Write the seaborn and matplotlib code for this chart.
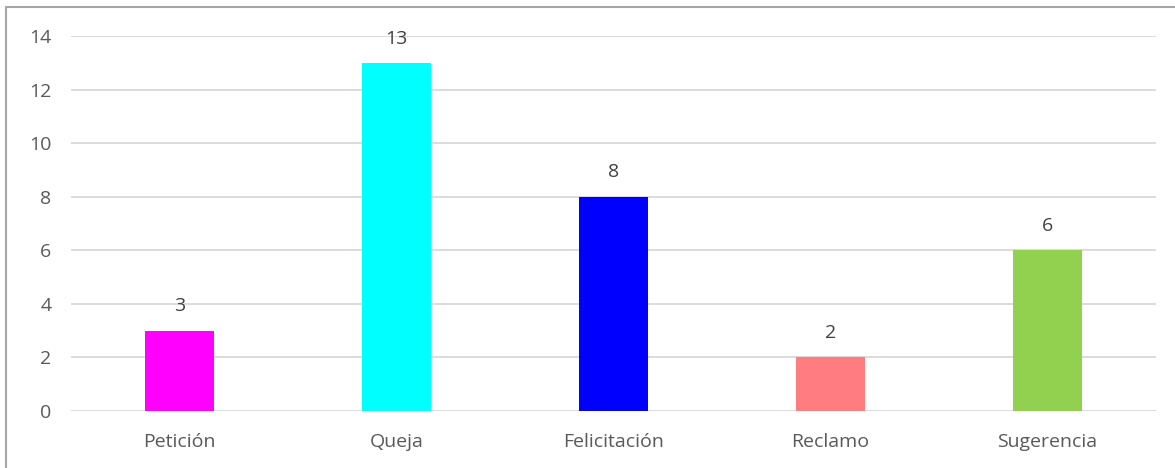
import matplotlib
matplotlib.use("Agg")
import matplotlib.pyplot as plt
import seaborn as sns
import pandas as pd
from matplotlib.lines import Line2D

categories = ["Petición", "Queja", "Felicitación", "Reclamo", "Sugerencia"]
values = [3, 13, 8, 2, 6]
colors = ["#FF00FF", "#00FFFF", "#0000FF", "#FF7C80", "#92D050"]
yticks = [0, 2, 4, 6, 8, 10, 12, 14]

sns.set_theme(style="white")
plt.rcParams['font.family'] = ['Open Sans', 'DejaVu Sans']

df = pd.DataFrame({"cat": categories, "val": values})

fig = plt.figure(figsize=(11.75, 4.68), dpi=100)
ax = fig.add_axes([71/1175, 1-411/468, (1156-71)/1175, (411-36)/468])

sns.barplot(data=df, x="cat", y="val", hue="cat", palette=colors, legend=False,
            width=0.315, ax=ax, saturation=1, linewidth=0)

ax.set_ylim(0, 14)
ax.set_yticks(yticks)
ax.set_xlim(-0.5, len(categories)-0.5)
ax.yaxis.grid(True, color="#D9D9D9", linewidth=1.3)
ax.set_axisbelow(True)
for s in ax.spines.values():
    s.set_visible(False)
ax.set_xlabel("")
ax.set_ylabel("")
ax.tick_params(axis="both", length=0, labelsize=14, labelcolor="#595959")
ax.tick_params(axis="y", pad=14)
ax.tick_params(axis="x", pad=16)

for i, v in enumerate(values):
    ax.annotate(str(v), (i, v), xytext=(0, 11), textcoords="offset points",
                ha="center", va="bottom", fontsize=14, color="#404040")

fig.add_artist(Line2D([6/1175, 6/1175], [0, 1-7/468], transform=fig.transFigure,
                      color="#A6A6A6", linewidth=1.5))
fig.add_artist(Line2D([6/1175, 1], [1-7/468, 1-7/468], transform=fig.transFigure,
                      color="#A6A6A6", linewidth=1.5))

fig.savefig("out.png", dpi=100)
